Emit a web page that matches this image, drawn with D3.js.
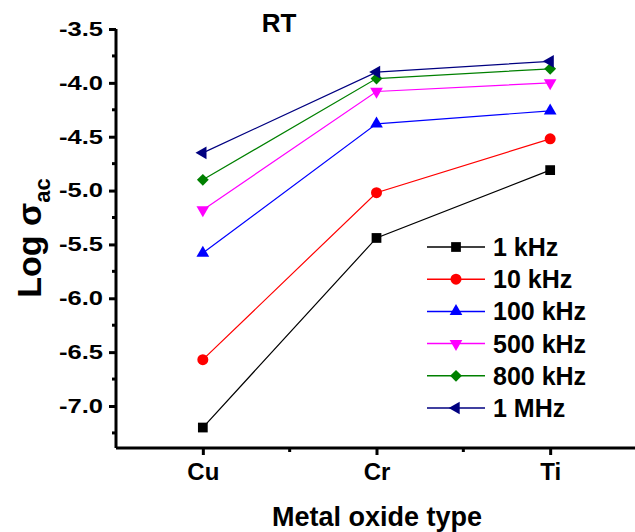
<!DOCTYPE html>
<html>
<head>
<meta charset="utf-8">
<script src="https://cdn.jsdelivr.net/npm/d3@7"></script>
<style>
  body { margin: 0; background: #fff; }
  text { font-family: Arial, "Liberation Sans", sans-serif; font-weight: bold; }
</style>
</head>
<body>
<div id="chart"></div>
<script>
const width = 635,
      height = 532;

// data
const oxides = ["Cu", "Cr", "Ti"];
const freqs = ["1 kHz", "10 kHz", "100 kHz", "500 kHz", "800 kHz", "1 MHz"];
const logSigma1k   = [-7.20, -5.44, -4.81];
const logSigma10k  = [-6.57, -5.02, -4.52];
const logSigma100k = [-5.58, -4.38, -4.26];
const logSigma500k = [-5.18, -4.08, -4.00];
const logSigma800k = [-4.90, -3.96, -3.87];
const logSigma1M   = [-4.65, -3.90, -3.80];
const yTicks = [-7.0, -6.5, -6.0, -5.5, -5.0, -4.5, -4.0, -3.5];

const seriesValues = [logSigma1k, logSigma10k, logSigma100k, logSigma500k, logSigma800k, logSigma1M];
const colors = ["#000000", "#ff0000", "#0000ff", "#ff00ff", "#008000", "#000080"];
// marker shape + rotation per series
const shapes = [
  {type: d3.symbolSquare, size: 95, rot: 0},
  {type: d3.symbolCircle, size: 95, rot: 0},
  {type: d3.symbolTriangle, size: 70, rot: 0},
  {type: d3.symbolTriangle, size: 70, rot: 180},
  {type: d3.symbolSquare, size: 70, rot: 45},
  {type: d3.symbolTriangle, size: 70, rot: -90}
];

const series = freqs.map((f, i) => ({
  name: f,
  color: colors[i],
  shape: shapes[i],
  points: oxides.map((o, j) => ({idx: j + 1, value: seriesValues[i][j]}))
}));

const x = d3.scaleLinear().domain([0.5, 3.5]).range([116, 637]);
const y = d3.scaleLinear().domain([-7.39, -3.5]).range([448, 29]);

const svg = d3.select("#chart").append("svg")
    .attr("width", width)
    .attr("height", height);

// y axis
const yAxis = svg.append("g")
    .attr("transform", "translate(116,0)")
    .call(d3.axisLeft(y).tickValues(yTicks).tickFormat(d3.format(".1f")).tickSize(7).tickPadding(6));
yAxis.select(".domain").attr("stroke-width", 3).attr("d", `M0,${y(-3.5)}V${y.range()[0]}`);
yAxis.selectAll(".tick line").attr("stroke-width", 3);
yAxis.selectAll(".tick text")
    .style("font-size", "20px")
    .attr("transform", "scale(1.28,1)")
    .attr("x", -13 / 1.28)
    .text(d => d3.format(".1f")(d).replace("−", "-"));

// y minor ticks
const yMinor = d3.range(-7.25, -3.5, 0.5);
svg.append("g").selectAll("line").data(yMinor).join("line")
    .attr("x1", 112).attr("x2", 116)
    .attr("y1", d => y(d)).attr("y2", d => y(d))
    .attr("stroke", "#000").attr("stroke-width", 3);

// x axis
const xAxis = svg.append("g")
    .attr("transform", "translate(0,448)")
    .call(d3.axisBottom(x).tickValues([1, 2, 3]).tickFormat(d => oxides[d - 1]).tickSize(7).tickPadding(8));
xAxis.select(".domain").attr("stroke-width", 3).attr("d", "M116,0H635");
xAxis.selectAll(".tick line").attr("stroke-width", 3);
xAxis.selectAll(".tick text").style("font-size", "24px").attr("fill", "#000");

svg.append("g").selectAll("line").data([1.5, 2.5]).join("line")
    .attr("x1", d => x(d)).attr("x2", d => x(d))
    .attr("y1", 448).attr("y2", 452)
    .attr("stroke", "#000").attr("stroke-width", 3);

// lines + markers
const line = d3.line().x(d => x(d.idx)).y(d => y(d.value));
const sym = s => d3.symbol().type(s.type).size(s.size);

const g = svg.append("g").selectAll("g").data(series).join("g");
g.append("path")
    .attr("d", d => line(d.points))
    .attr("fill", "none")
    .attr("stroke", d => d.color)
    .attr("stroke-width", 1.2);
g.each(function(s) {
  d3.select(this).selectAll("path.m").data(s.points).join("path")
      .attr("class", "m")
      .attr("d", sym(s.shape))
      .attr("transform", d => `translate(${x(d.idx)},${y(d.value)}) rotate(${s.shape.rot})`)
      .attr("fill", s.color);
});

// legend
const legend = svg.append("g").selectAll("g").data(series).join("g")
    .attr("transform", (d, i) => `translate(427,${247 + i * 32.2})`);
legend.append("line")
    .attr("x1", 0).attr("x2", 58)
    .attr("stroke", d => d.color).attr("stroke-width", 1.5);
legend.append("path")
    .attr("d", d => sym(d.shape)())
    .attr("transform", d => `translate(29,0) rotate(${d.shape.rot})`)
    .attr("fill", d => d.color);
legend.append("text")
    .attr("x", 66).attr("y", 9)
    .style("font-size", "25px")
    .text(d => d.name);

// title
svg.append("text")
    .attr("x", 279).attr("y", 32)
    .attr("text-anchor", "middle")
    .style("font-size", "26px")
    .text("RT");

// axis titles
svg.append("text")
    .attr("x", 377).attr("y", 526)
    .attr("text-anchor", "middle")
    .style("font-size", "27px")
    .text("Metal oxide type");

const yl = svg.append("text")
    .attr("transform", "translate(41,238) rotate(-90)")
    .attr("text-anchor", "middle")
    .style("font-size", "34px");
yl.append("tspan").text("Log σ");
yl.append("tspan").attr("dy", 9).style("font-size", "22px").text("ac");
</script>
</body>
</html>
